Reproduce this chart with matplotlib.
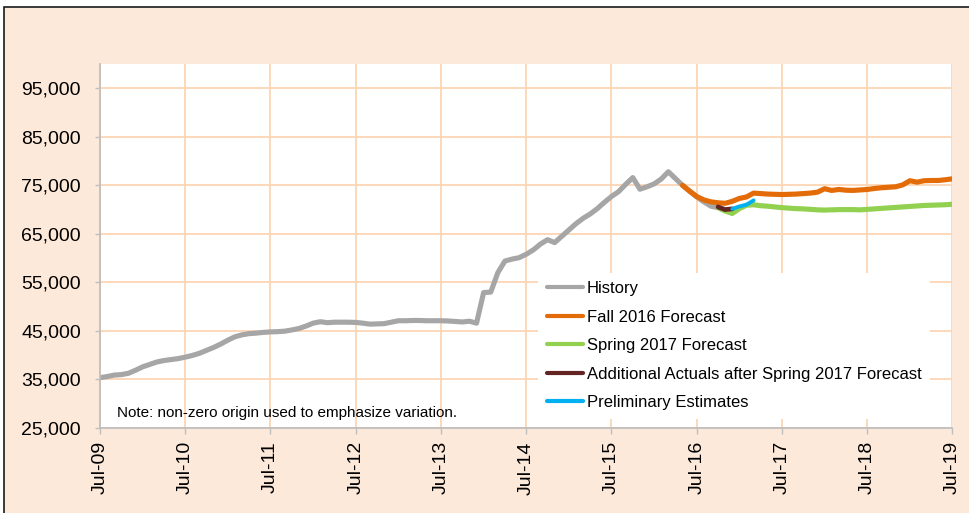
import matplotlib
matplotlib.use("Agg")
import matplotlib.pyplot as plt
from matplotlib.patches import Rectangle
import numpy as np

plt.rcParams['font.family'] = ['Liberation Sans', 'DejaVu Sans']

# month index 0 = Jul-09
tick_labels = ['Jul-09', 'Jul-10', 'Jul-11', 'Jul-12', 'Jul-13', 'Jul-14',
               'Jul-15', 'Jul-16', 'Jul-17', 'Jul-18', 'Jul-19']
y_ticks = [25000, 35000, 45000, 55000, 65000, 75000, 85000, 95000]

history_start = 0
history = [35360, 35600, 35900, 36000, 36270, 36900, 37600, 38100, 38600, 38900,
           39100, 39300, 39600, 39950, 40400, 41000, 41600, 42300, 43100, 43800,
           44200, 44450, 44550, 44700, 44800, 44850, 44950, 45200, 45500, 46000,
           46600, 46900, 46700, 46800, 46800, 46800, 46750, 46600, 46400, 46450,
           46500, 46800, 47100, 47100, 47150, 47150, 47100, 47100, 47100, 47050,
           46950, 46850, 47000, 46600, 52900, 53000, 57000, 59400, 59800, 60100,
           60800, 61700, 62900, 63800, 63200, 64500, 65800, 67100, 68200, 69100,
           70200, 71500, 72700, 73700, 75200, 76600, 74200, 74700, 75300, 76300,
           77800, 76400, 75000, 73800, 72600, 71600, 70700, 70400]

fall_start = 82
fall_2016 = [75000, 73800, 72700, 72000, 71600, 71400, 71300, 71700, 72300, 72600,
             73400, 73300, 73200, 73150, 73100, 73150, 73200, 73300, 73400, 73600,
             74300, 73950, 74150, 74000, 73950, 74050, 74150, 74350, 74500, 74600,
             74700, 75100, 75950, 75650, 75950, 76000, 76000, 76150, 76350]

spring_start = 87
spring_2017 = [70400, 69700, 69200, 70200, 70900, 71000, 70800, 70700, 70550, 70400,
               70300, 70200, 70150, 70050, 69950, 69900, 69950, 70000, 70000, 70000,
               69950, 70050, 70150, 70250, 70350, 70450, 70550, 70650, 70750, 70850,
               70900, 70950, 71000, 71100]

actuals_start = 87
additional_actuals = [70550, 70000, 70150]

prelim_start = 89
preliminary = [70150, 70650, 71000, 71900]

series = [
    ('History', history_start, history, '#A6A6A6', 3.7),
    ('Fall 2016 Forecast', fall_start, fall_2016, '#E36C09', 3.7),
    ('Spring 2017 Forecast', spring_start, spring_2017, '#92D050', 3.7),
    ('Additional Actuals after Spring 2017 Forecast', actuals_start,
     additional_actuals, '#632523', 3.4),
    ('Preliminary Estimates', prelim_start, preliminary, '#00B0F0', 2.8),
]

fig = plt.figure(figsize=(9.7, 5.13), dpi=100, facecolor='white')
fig.patches.append(Rectangle((4 / 970, -0.1), 1.2, 1.1 - 7 / 513,
                             transform=fig.transFigure, facecolor='#FDE9D9',
                             edgecolor='#1A1A1A', linewidth=1.2, zorder=-10))

ax = fig.add_axes([100 / 970, 85 / 513, 852.5 / 970, 364 / 513])
ax.set_facecolor('white')

for name, start, vals, color, lw in series:
    x = np.arange(start, start + len(vals))
    ax.plot(x, vals, color=color, linewidth=lw, label=name,
            solid_capstyle='round', solid_joinstyle='round')

ax.set_xlim(0, 120)
ax.set_ylim(25000, 100000)
ax.set_xticks(np.arange(0, 121, 12))
ax.set_xticklabels(tick_labels, rotation=90, fontsize=14)
ax.set_yticks(y_ticks)
ax.set_yticklabels(['{:,}'.format(v) for v in y_ticks], fontsize=14)
ax.grid(True, color='#FCD5B4', linewidth=1.3)
ax.set_axisbelow(True)

for s in ['top', 'right']:
    ax.spines[s].set_visible(False)
for s in ['left', 'bottom']:
    ax.spines[s].set_color('#BFBFBF')
    ax.spines[s].set_linewidth(1.3)
ax.tick_params(axis='y', length=3.6, width=1, color='#BFBFBF', pad=10)
ax.tick_params(axis='x', length=4.5, width=1, color='#BFBFBF', pad=5)

leg = ax.legend(loc='upper left', bbox_to_anchor=(0.514, 0.426), fontsize=12,
                frameon=True, framealpha=1, facecolor='white', edgecolor='none',
                fancybox=False, handlelength=2.2, handletextpad=0.2,
                labelspacing=0.81, borderpad=0.5, borderaxespad=0)
for line in leg.get_lines():
    line.set_linewidth(3.0)

ax.text(0.02, 0.042, 'Note: non-zero origin used to emphasize variation.',
        transform=ax.transAxes, fontsize=11, va='center', ha='left')

fig.savefig('out.png', dpi=100, facecolor=fig.get_facecolor())
